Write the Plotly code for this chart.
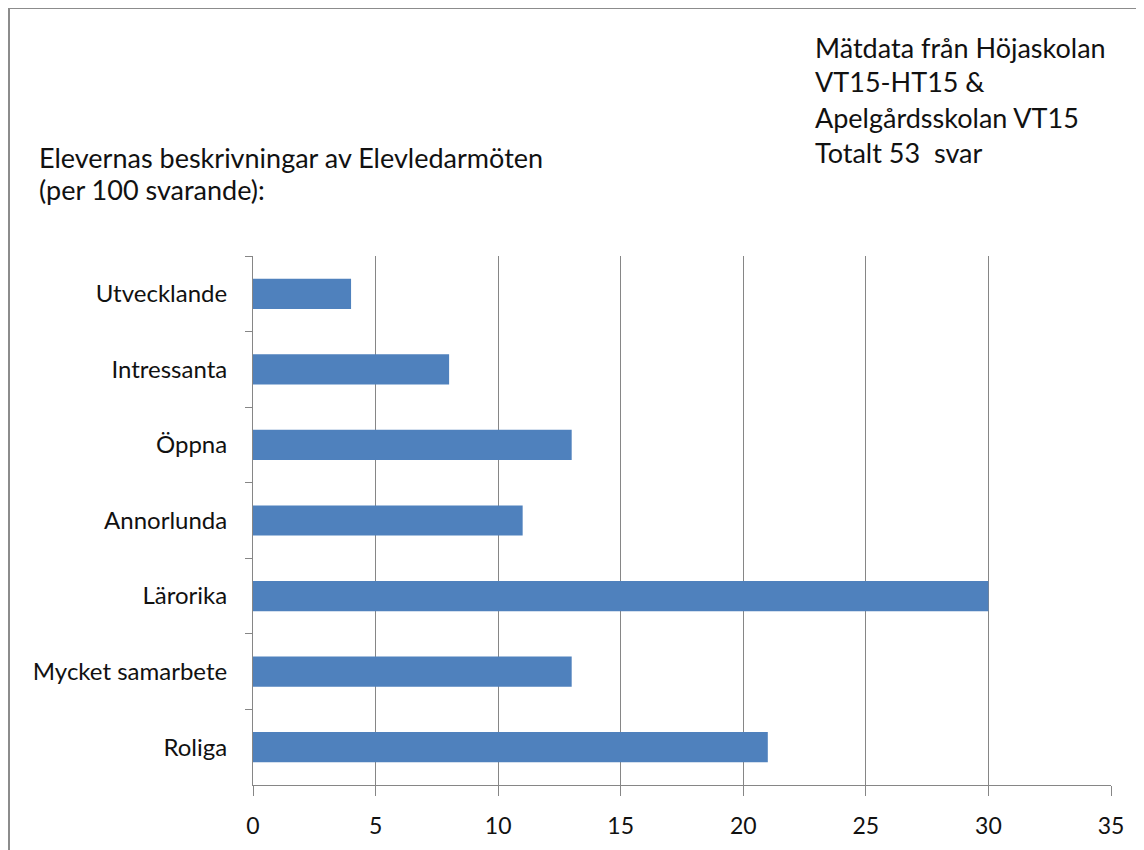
import plotly.graph_objects as go

categories = ["Utvecklande", "Intressanta", "Öppna", "Annorlunda", "Lärorika", "Mycket samarbete", "Roliga"]
values = [4, 8, 13, 11, 30, 13, 21]
x_ticks = [0, 5, 10, 15, 20, 25, 30, 35]
title_lines = ["Elevernas beskrivningar av Elevledarmöten", "(per 100 svarande):"]
info_lines = ["Mätdata från Höjaskolan", "VT15-HT15 &", "Apelgårdsskolan VT15", "Totalt 53  svar"]

OFF = 8  # default page body margin
W, H = 1144 - OFF, 850 - OFF
L, R, T, B = 253 - OFF, 1111 - OFF, 256 - OFF, 785 - OFF
FONT = "Lato"

def px(x):
    return (x - OFF - L) / (R - L)

def py(y):
    return (B - (y - OFF)) / (B - T)

fig = go.Figure(go.Bar(
    x=values, y=categories, orientation="h",
    marker=dict(color="#4F81BD", line=dict(width=0)),
    width=0.4,
))

anns = []
for t, yy in zip(title_lines, [157, 190]):
    anns.append(dict(text=t, x=px(37), y=py(yy), xref="paper", yref="paper",
                     xanchor="left", yanchor="middle", showarrow=False,
                     font=dict(family=FONT, size=27, color="#111")))
for t, yy in zip(info_lines, [47, 82, 118, 153]):
    anns.append(dict(text=t, x=px(813), y=py(yy), xref="paper", yref="paper",
                     xanchor="left", yanchor="middle", showarrow=False,
                     font=dict(family=FONT, size=27, color="#111")))

shapes = [
    dict(type="line", xref="paper", yref="paper", x0=px(9), x1=px(9), y0=py(8), y1=py(870),
         line=dict(color="#8c8c8c", width=2)),
    dict(type="line", xref="paper", yref="paper", x0=px(9), x1=px(1170), y0=py(8), y1=py(8),
         line=dict(color="#8c8c8c", width=2)),
]

fig.update_layout(
    width=W, height=H,
    margin=dict(l=L, r=W - R, t=T, b=H - B, autoexpand=False),
    paper_bgcolor="white", plot_bgcolor="white",
    showlegend=False,
    annotations=anns, shapes=shapes,
    font=dict(family=FONT, size=24, color="#111"),
)
fig.update_xaxes(
    range=[0, 35], tickvals=x_ticks, ticktext=[str(v) for v in x_ticks],
    showgrid=True, gridcolor="#868686", gridwidth=1,
    showline=True, linecolor="#868686", linewidth=1,
    ticks="outside", ticklen=10, tickcolor="#868686",
    zeroline=False, tickfont=dict(size=23, family=FONT), ticklabelstandoff=10,
)
fig.update_yaxes(
    categoryorder="array", categoryarray=categories, autorange="reversed",
    showgrid=False, showline=True, linecolor="#868686", linewidth=1,
    ticks="outside", ticklen=7, tickcolor="#868686", tickson="boundaries",
    tickfont=dict(size=24, family=FONT), ticklabelstandoff=20,
)

fig.write_html("out.html")
